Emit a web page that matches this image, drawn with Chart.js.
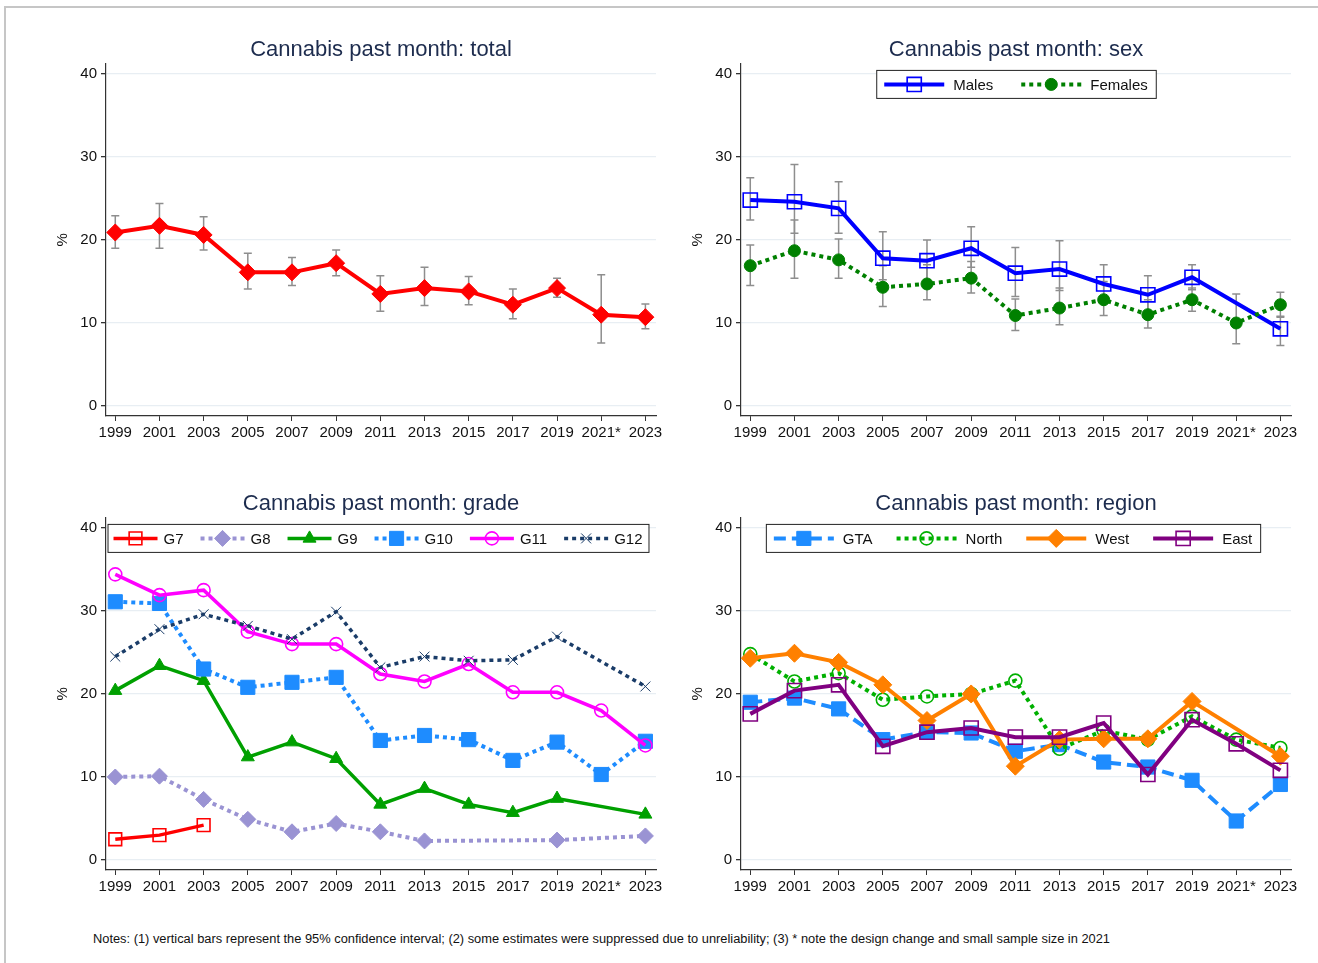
<!DOCTYPE html>
<html>
<head>
<meta charset="utf-8">
<script src="https://cdn.jsdelivr.net/npm/chart.js@4.4.1/dist/chart.umd.min.js"></script>
<style>
  body{margin:0;background:#fff;width:1318px;height:963px;overflow:hidden;position:relative;font-family:"Liberation Sans",Arial,sans-serif}
  #frame{position:absolute;left:4px;top:6px;width:1340px;height:1000px;border-left:2px solid #c6c6c6;border-top:2px solid #c6c6c6}
  canvas{position:absolute}
  #note{position:absolute;left:93px;top:932px;font-size:12px;color:#111;white-space:nowrap;transform-origin:0 0;font-family:"Liberation Sans Narrow","Liberation Sans",Arial,sans-serif}
</style>
</head>
<body>
<div id="frame"></div>
<canvas id="cTotal" width="682" height="420" style="left:40px;top:30px"></canvas>
<canvas id="cSex" width="682" height="420" style="left:675px;top:30px"></canvas>
<canvas id="cGrade" width="682" height="420" style="left:40px;top:484px"></canvas>
<canvas id="cRegion" width="682" height="420" style="left:675px;top:484px"></canvas>
<div id="note">Notes: (1) vertical bars represent the 95% confidence interval; (2) some estimates were suppressed due to unreliability; (3) * note the design change and small sample size in 2021</div>
<script>
const years = ["1999","2001","2003","2005","2007","2009","2011","2013","2015","2017","2019","2021*","2023"];
const yTicks = [0, 10, 20, 30, 40];

// total
const totalVals = [20.9, 21.7, 20.6, 16.1, 16.1, 17.2, 13.5, 14.2, 13.8, 12.2, 14.2, 11.0, 10.7];
const totalLo   = [19.0, 19.0, 18.8, 14.1, 14.5, 15.7, 11.4, 12.1, 12.2, 10.5, 13.1, 7.6, 9.3];
const totalHi   = [22.9, 24.4, 22.8, 18.4, 17.9, 18.8, 15.7, 16.7, 15.6, 14.1, 15.4, 15.8, 12.3];

// sex
const malesVals   = [24.8, 24.6, 23.8, 17.8, 17.5, 19.0, 16.0, 16.5, 14.7, 13.4, 15.5, null, 9.3];
const malesLo     = [22.4, 20.8, 20.8, 15.2, 15.2, 16.7, 13.2, 13.9, 12.5, 11.3, 14.0, null, 7.3];
const malesHi     = [27.5, 29.1, 27.0, 21.0, 20.0, 21.6, 19.1, 19.9, 17.0, 15.7, 17.0, null, 10.8];
const femalesVals = [16.9, 18.7, 17.6, 14.3, 14.7, 15.4, 10.9, 11.8, 12.8, 11.0, 12.8, 10.0, 12.2];
const femalesLo   = [14.5, 15.4, 15.4, 12.0, 12.8, 13.6, 9.1, 9.8, 10.9, 9.4, 11.4, 7.5, 10.7];
const femalesHi   = [19.4, 22.4, 20.1, 16.9, 17.0, 17.4, 12.9, 14.2, 15.0, 12.8, 14.2, 13.5, 13.7];

// grade
const g7  = [2.5, 3.0, 4.2, null, null, null, null, null, null, null, null, null, null];
const g8  = [10.0, 10.1, 7.3, 4.9, 3.4, 4.4, 3.4, 2.3, null, null, 2.4, null, 2.9];
const g9  = [20.4, 23.4, 21.6, 12.4, 14.2, 12.2, 6.7, 8.6, 6.7, 5.7, 7.4, null, 5.5];
const g10 = [31.1, 30.9, 23.0, 20.8, 21.4, 22.0, 14.4, 15.0, 14.5, 12.0, 14.2, 10.3, 14.3];
const g11 = [34.4, 31.9, 32.5, 27.5, 26.0, 26.0, 22.4, 21.5, 23.6, 20.2, 20.2, 18.0, 13.8];
const g12 = [24.5, 27.8, 29.6, 28.2, 26.6, 29.9, 23.2, 24.5, 24.0, 24.1, 26.9, null, 20.9];

// region
const gta   = [19.0, 19.5, 18.2, 14.5, 15.4, 15.3, 13.1, 13.9, 11.8, 11.2, 9.6, 4.7, 9.1];
const north = [24.8, 21.5, 22.5, 19.3, 19.7, 20.0, 21.6, 13.4, 15.6, 14.5, 17.3, 14.5, 13.5];
const west  = [24.3, 24.9, 23.8, 21.1, 16.8, 20.0, 11.3, 14.5, 14.6, 14.6, 19.1, null, 12.5];
const east  = [17.6, 20.4, 21.1, 13.7, 15.4, 15.9, 14.8, 14.8, 16.5, 10.3, 16.9, 14.0, 10.8];

const errorBars = {
  id: "errorBars",
  beforeDatasetsDraw(chart){
    const {ctx, scales:{x, y}} = chart;
    ctx.save();
    ctx.strokeStyle = "#8e8e8e";
    ctx.lineWidth = 1.5;
    chart.data.datasets.forEach(ds => {
      if(!ds.lo) return;
      ds.lo.forEach((lo, i) => {
        const hi = ds.hi[i];
        if(lo == null || hi == null) return;
        const px = x.getPixelForValue(i);
        const p1 = y.getPixelForValue(lo), p2 = y.getPixelForValue(hi);
        ctx.beginPath();
        ctx.moveTo(px, p1); ctx.lineTo(px, p2);
        ctx.moveTo(px - 4, p1); ctx.lineTo(px + 4, p1);
        ctx.moveTo(px - 4, p2); ctx.lineTo(px + 4, p2);
        ctx.stroke();
      });
    });
    ctx.restore();
  }
};

// framed legend drawn inside the plot, like the original
const boxLegend = {
  id: "boxLegend",
  afterDraw(chart, args, opts){
    if(!opts || !opts.show) return;
    const ctx = chart.ctx, area = chart.chartArea;
    const sets = chart.data.datasets;
    ctx.save();
    ctx.font = "15px 'Liberation Sans', Arial, sans-serif";
    const widths = sets.map(ds => opts.lineLen + opts.gap + ctx.measureText(ds.label).width);
    const total = widths.reduce((a, b) => a + b, 0) + opts.itemGap * (sets.length - 1) + opts.pad * 2;
    const left = (area.left + area.right) / 2 - total / 2 + (opts.shift || 0);
    const top = area.top + 6, h = 28;
    ctx.fillStyle = "#fff";
    ctx.fillRect(left, top, total, h);
    ctx.strokeStyle = "#222";
    ctx.lineWidth = 1;
    ctx.strokeRect(left + 0.5, top + 0.5, total, h);
    let cx = left + opts.pad;
    const cy = top + h / 2 + 0.5;
    sets.forEach((ds, i) => {
      ctx.save();
      ctx.strokeStyle = ds.borderColor;
      ctx.lineWidth = ds.borderWidth;
      ctx.setLineDash(ds.borderDash || []);
      ctx.beginPath();
      ctx.moveTo(cx, cy); ctx.lineTo(cx + opts.lineLen, cy);
      ctx.stroke();
      ctx.setLineDash([]);
      ctx.fillStyle = ds.pointBackgroundColor;
      ctx.strokeStyle = ds.pointBorderColor;
      ctx.lineWidth = ds.pointBorderWidth;
      Chart.helpers.drawPoint(ctx, {pointStyle: ds.pointStyle, radius: ds.pointRadius, borderWidth: ds.pointBorderWidth, rotation: 0}, cx + opts.lineLen / 2, cy);
      ctx.restore();
      ctx.fillStyle = "#111";
      ctx.textBaseline = "middle";
      ctx.fillText(ds.label, cx + opts.lineLen + opts.gap, cy + 1);
      cx += widths[i] + opts.itemGap;
    });
    ctx.restore();
  }
};

function makeChart(id, title, series, legend){
  const n = series.length;
  return new Chart(document.getElementById(id), {
    type: "line",
    data: {
      datasets: series.map((s, i) => ({
        label: s.label,
        data: s.values.map((v, j) => ({x: j, y: v})),
        lo: s.lo, hi: s.hi,
        borderColor: s.color,
        borderWidth: s.width || 4,
        borderDash: s.dash || [],
        borderCapStyle: "butt",
        pointStyle: s.marker,
        pointRadius: s.size,
        pointHoverRadius: s.size,
        pointBackgroundColor: s.hollow ? "rgba(0,0,0,0)" : s.color,
        pointBorderColor: s.color,
        pointBorderWidth: s.hollow ? 1.6 : 1,
        spanGaps: true,
        tension: 0,
        order: n - i
      }))
    },
    options: {
      responsive: false,
      animation: false,
      plugins: {
        legend: {display: false},
        tooltip: {enabled: false},
        title: {
          display: true, text: title, color: "#1d2c4e",
          font: {size: 22, weight: "normal", family: "'Liberation Sans', Arial, sans-serif"},
          padding: {top: 7, bottom: 0.5}
        },
        boxLegend: legend || {show: false}
      },
      scales: {
        x: {
          type: "linear", min: -0.21, max: 12.24,
          afterBuildTicks: sc => { sc.ticks = years.map((_, i) => ({value: i})); },
          afterFit: sc => { sc.height = 34; },
          ticks: {callback: v => years[v], autoSkip: false, maxRotation: 0, color: "#111", padding: 3,
                  font: {size: 15, family: "'Liberation Sans', Arial, sans-serif"}},
          grid: {drawOnChartArea: false, tickLength: 5, tickColor: "#333"},
          border: {color: "#333", width: 1.2}
        },
        y: {
          min: -1.2, max: 41.2,
          afterBuildTicks: sc => { sc.ticks = yTicks.map(v => ({value: v})); },
          afterFit: sc => { sc.width = 66; },
          ticks: {color: "#111", padding: 4, font: {size: 15, family: "'Liberation Sans', Arial, sans-serif"}},
          grid: {color: "#e8eef3", lineWidth: 1.3, tickLength: 5, tickColor: "#333"},
          border: {color: "#333", width: 1.2},
          title: {display: true, text: "%", color: "#111", padding: {top: 14, bottom: 0},
                  font: {size: 15, family: "'Liberation Sans', Arial, sans-serif"}}
        },
        // empty right-hand box so the title centres over the plot
        yPad: {
          position: "right", display: true,
          afterFit: sc => { sc.width = 66; },
          ticks: {display: false},
          grid: {display: false, drawTicks: false},
          border: {display: false}
        }
      }
    },
    plugins: [errorBars, boxLegend]
  });
}

makeChart("cTotal", "Cannabis past month: total", [
  {label: "Total", values: totalVals, lo: totalLo, hi: totalHi, color: "#ff0000", marker: "rectRot", size: 8.5}
]);

makeChart("cSex", "Cannabis past month: sex", [
  {label: "Males", values: malesVals, lo: malesLo, hi: malesHi, color: "#0000ff", marker: "rect", size: 10, hollow: true},
  {label: "Females", values: femalesVals, lo: femalesLo, hi: femalesHi, color: "#008000", marker: "circle", size: 6, dash: [4, 4]}
], {show: true, lineLen: 60, gap: 9, itemGap: 28, pad: 8});

makeChart("cGrade", "Cannabis past month: grade", [
  {label: "G7", values: g7, color: "#ff0000", marker: "rect", size: 9, hollow: true, width: 3.5},
  {label: "G8", values: g8, color: "#9a93d3", marker: "rectRot", size: 8, dash: [4, 4]},
  {label: "G9", values: g9, color: "#00a000", marker: "triangle", size: 7.5, width: 3.5},
  {label: "G10", values: g10, color: "#1e8cff", marker: "rect", size: 10, dash: [4, 4]},
  {label: "G11", values: g11, color: "#ff00ff", marker: "circle", size: 6.5, hollow: true, width: 3.5},
  {label: "G12", values: g12, color: "#1a3c68", marker: "crossRot", size: 7, dash: [4, 4], width: 3.5}
], {show: true, lineLen: 44, gap: 6, itemGap: 17, pad: 6, shift: -3});

makeChart("cRegion", "Cannabis past month: region", [
  {label: "GTA", values: gta, color: "#1e8cff", marker: "rect", size: 10, dash: [12, 6]},
  {label: "North", values: north, color: "#00b000", marker: "circle", size: 6.5, hollow: true, dash: [4, 4]},
  {label: "West", values: west, color: "#ff8000", marker: "rectRot", size: 9},
  {label: "East", values: east, color: "#800080", marker: "rect", size: 10, hollow: true}
], {show: true, lineLen: 60, gap: 9, itemGap: 24, pad: 8, shift: -3});

// stretch the note line to the width it takes in the original
const note = document.getElementById("note");
note.style.transform = "scaleX(" + (1017 / note.getBoundingClientRect().width) + ")";
</script>
</body>
</html>
